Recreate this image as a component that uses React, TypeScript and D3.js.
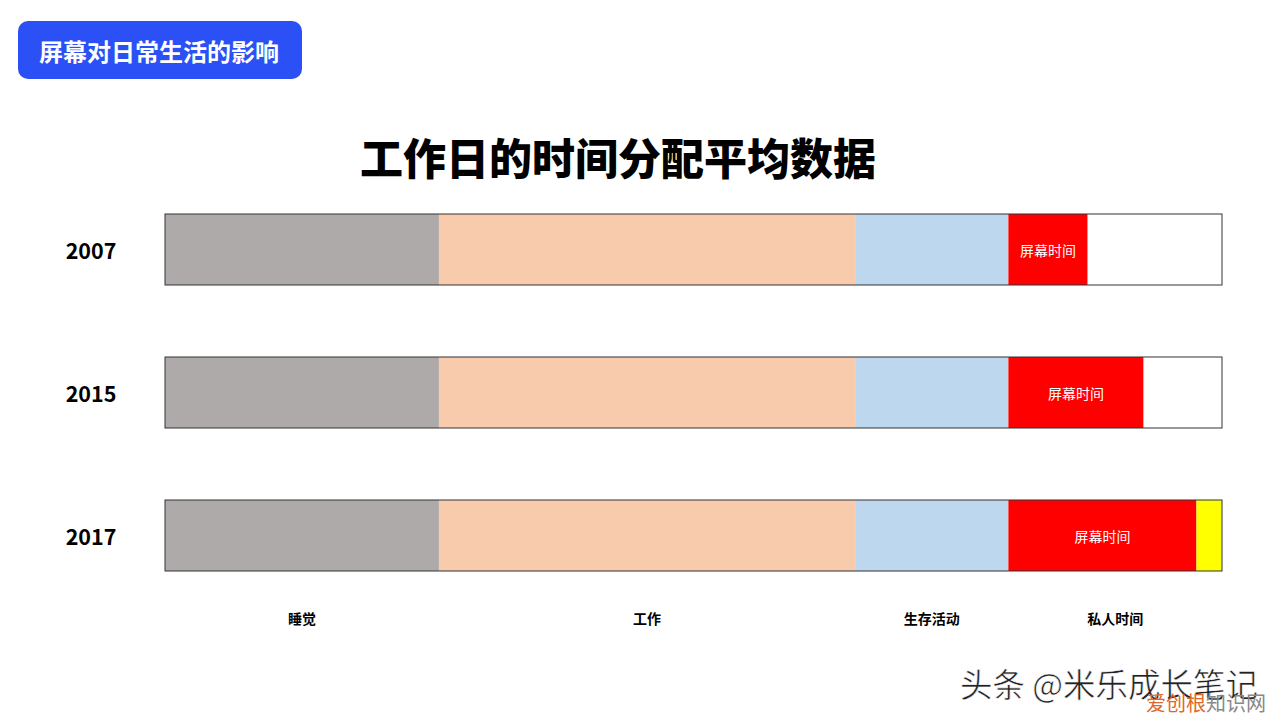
import React from "react";
import * as d3 from "d3";

const years = ["2007", "2015", "2017"];
const categories = ["睡觉", "工作", "生存活动", "屏幕时间", "其他"];
const sleepHours = [6.22, 6.22, 6.22];
const workHours = [9.45, 9.45, 9.45];
const survivalHours = [3.48, 3.48, 3.48];
const screenHours = [1.8, 3.07, 4.27];
const otherHours = [3.05, 1.78, 0.58];
const segmentColors = ["#aeaaaa", "#f8cbad", "#bdd7ee", "#ff0000"];
const otherColors = ["#ffffff", "#ffffff", "#ffff00"];
const axisLabels = ["睡觉", "工作", "生存活动", "私人时间"];

const FONT = "'Noto Sans CJK SC', 'Noto Sans', sans-serif";

export default function App() {
  const W = 1280, H = 720;
  const x = d3.scaleLinear().domain([0, 24]).range([165, 1222]);
  const y = d3.scaleBand().domain(years).range([214, 571]).paddingInner(72 / 143).paddingOuter(0);

  const rows = years.map((yr, i) => {
    const vals = [sleepHours[i], workHours[i], survivalHours[i], screenHours[i], otherHours[i]];
    const stack: { start: number; end: number; cat: string; color: string }[] = [];
    let acc = 0;
    vals.forEach((v, k) => {
      stack.push({
        start: acc,
        end: acc + v,
        cat: categories[k],
        color: k < 4 ? segmentColors[k] : otherColors[i],
      });
      acc += v;
    });
    return { yr, stack };
  });

  const b0 = 0, b1 = sleepHours[0], b2 = b1 + workHours[0], b3 = b2 + survivalHours[0], b4 = 24;
  const labelCenters = [(b0 + b1) / 2, (b1 + b2) / 2, (b2 + b3) / 2, (b3 + b4) / 2];

  return (
    <svg width={W} height={H} style={{ position: "absolute", left: 0, top: 0, background: "#fff" }} fontFamily={FONT}>
      <rect x={0} y={0} width={W} height={H} fill="#fff" />
      <rect x={18} y={21} width={284} height={58} rx={10} fill="#2b50f5" />
      <text x={159} y={50} fill="#fff" fontSize={24} fontWeight={700} textAnchor="middle" dominantBaseline="central">
        屏幕对日常生活的影响
      </text>
      <text x={618} y={156} fill="#000" fontSize={43} fontWeight={900} textAnchor="middle" dominantBaseline="central">
        工作日的时间分配平均数据
      </text>
      {rows.map((r) => {
        const yy = y(r.yr)!;
        const bh = y.bandwidth();
        return (
          <g key={r.yr}>
            <text x={91} y={yy + bh / 2} fontSize={21.5} fontWeight={700} textAnchor="middle" dominantBaseline="central" fill="#000">
              {r.yr}
            </text>
            {r.stack.map((s) => (
              <rect key={s.cat} x={x(s.start)} y={yy} width={x(s.end) - x(s.start)} height={bh} fill={s.color} />
            ))}
            {r.stack
              .filter((s) => s.cat === "屏幕时间")
              .map((s) => (
                <text key="lbl" x={(x(s.start) + x(s.end)) / 2} y={yy + bh / 2} fontSize={14} fill="#fff" textAnchor="middle" dominantBaseline="central">
                  {s.cat}
                </text>
              ))}
            <rect x={x(0)} y={yy} width={x(24) - x(0)} height={bh} fill="none" stroke="#333" strokeWidth={1} />
          </g>
        );
      })}
      {axisLabels.map((l, i) => (
        <text key={l} x={x(labelCenters[i])} y={618} fontSize={14} fontWeight={700} textAnchor="middle" dominantBaseline="central" fill="#000">
          {l}
        </text>
      ))}
      <text x={960} y={682} fontSize={32.5} fill="#222" stroke="#fff" strokeWidth={0.6} dominantBaseline="central">
        头条 @米乐成长笔记
      </text>
      <text x={1146} y={702} fontSize={20} dominantBaseline="central">
        <tspan fill="#e0662a">爱创根</tspan>
        <tspan fill="#888">知识网</tspan>
      </text>
    </svg>
  );
}
